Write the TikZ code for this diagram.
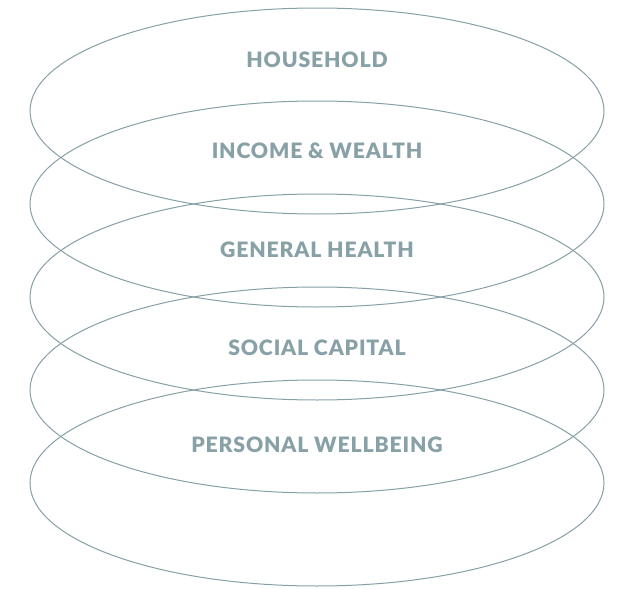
\documentclass[tikz,border=0pt]{standalone}
\usepackage{fontspec}
\setmainfont{Lato}
\newfontfamily\layerfont[LetterSpace=4,UprightFont=* Black]{Lato}
\definecolor{ringline}{HTML}{87A0A6}
\definecolor{ringtext}{HTML}{88A1A7}
\begin{document}
\begin{tikzpicture}[x=1pt,y=-1pt,
  ring/.style={draw=ringline,line width=1pt},
  layerlabel/.style={text=ringtext,font=\layerfont\fontsize{21.2}{24}\selectfont,inner sep=0pt,anchor=center}]
\useasboundingbox[fill=white] (0,0) rectangle (625,589);
% five stacked rings
\foreach \cy [count=\i] in {111,204,297,390,483}{
  \draw[ring] (317,\cy) ellipse [x radius=287,y radius=103];
}
\node[layerlabel] (household) at (317,60) {HOUSEHOLD};
\node[layerlabel] (income) at (317,151) {INCOME \& WEALTH};
\node[layerlabel] (health) at (317,250) {GENERAL HEALTH};
\node[layerlabel] (social) at (317,348) {SOCIAL CAPITAL};
\node[layerlabel] (wellbeing) at (317,445) {PERSONAL WELLBEING};
\end{tikzpicture}
\end{document}
